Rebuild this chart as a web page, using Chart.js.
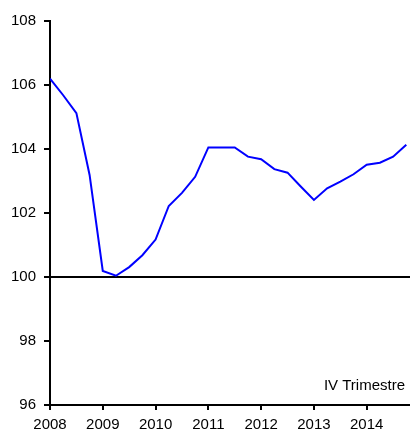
<!DOCTYPE html>
<html>
<head>
<meta charset="utf-8">
<script src="https://cdn.jsdelivr.net/npm/chart.js@4.4.1/dist/chart.umd.min.js"></script>
<style>
  html, body { margin: 0; padding: 0; background: #ffffff; }
  #wrap { width: 410px; height: 431px; }
</style>
</head>
<body>
<div id="wrap"><canvas id="c" width="410" height="431"></canvas></div>
<script>
// Quarterly periods starting 2008 Q1
const startYear = 2008;
const quarterValues = [
  106.20, 105.68, 105.12, 103.19,
  100.19, 100.04, 100.31, 100.68,
  101.17, 102.22, 102.63, 103.13,
  104.05, 104.05, 104.05, 103.76,
  103.68, 103.37, 103.26, 102.83,
  102.41, 102.77, 102.98, 103.21,
  103.51, 103.57, 103.76, 104.13
];
const yearTicks = [2008, 2009, 2010, 2011, 2012, 2013, 2014];
const yTicks = [96, 98, 100, 102, 104, 106, 108];
const baseline = 100;
const xMin = 2008, xMax = 2014.82;
const noteText = 'IV Trimestre';

const seriesPoints = quarterValues.map((v, i) => ({ x: startYear + i / 4, y: v }));
const baselinePoints = [{ x: xMin, y: baseline }, { x: xMax, y: baseline }];

const FONT = "'Liberation Sans', Arial, sans-serif";

const notePlugin = {
  id: 'note',
  afterDraw(chart) {
    const ctx = chart.ctx;
    const a = chart.chartArea;
    ctx.save();
    ctx.font = "15px " + FONT;
    ctx.fillStyle = '#000';
    ctx.textAlign = 'right';
    ctx.textBaseline = 'alphabetic';
    ctx.fillText(noteText, a.right - 5, a.bottom - 15);
    ctx.restore();
  }
};

new Chart(document.getElementById('c'), {
  type: 'line',
  data: {
    datasets: [
      {
        data: baselinePoints,
        borderColor: '#000000',
        borderWidth: 2,
        pointRadius: 0,
        fill: false,
        tension: 0,
        order: 2
      },
      {
        data: seriesPoints,
        borderColor: '#0000FF',
        borderWidth: 2,
        pointRadius: 0,
        fill: false,
        tension: 0,
        order: 1
      }
    ]
  },
  options: {
    responsive: false,
    animation: false,
    devicePixelRatio: 1,
    layout: { padding: { top: 21, right: 0, left: 0, bottom: 0 } },
    plugins: { legend: { display: false }, tooltip: { enabled: false } },
    scales: {
      x: {
        type: 'linear',
        min: xMin,
        max: xMax,
        afterBuildTicks(scale) { scale.ticks = yearTicks.map(v => ({ value: v })); },
        afterFit(scale) { scale.height = 26; },
        ticks: {
          color: '#000',
          font: { family: FONT, size: 15 },
          padding: 6,
          maxRotation: 0,
          autoSkip: false,
          callback: v => String(v)
        },
        grid: { display: true, drawOnChartArea: false, drawTicks: true, tickLength: 5, color: '#000', lineWidth: 2 },
        border: { display: true, color: '#000', width: 2 }
      },
      y: {
        min: 96,
        max: 108,
        afterBuildTicks(scale) { scale.ticks = yTicks.map(v => ({ value: v })); },
        afterFit(scale) { scale.width = 50; },
        ticks: {
          color: '#000',
          font: { family: FONT, size: 15 },
          padding: 8,
          callback: v => String(v)
        },
        grid: { display: true, drawOnChartArea: false, drawTicks: true, tickLength: 6, color: '#000', lineWidth: 2 },
        border: { display: true, color: '#000', width: 2 }
      }
    }
  },
  plugins: [notePlugin]
});
</script>
</body>
</html>
